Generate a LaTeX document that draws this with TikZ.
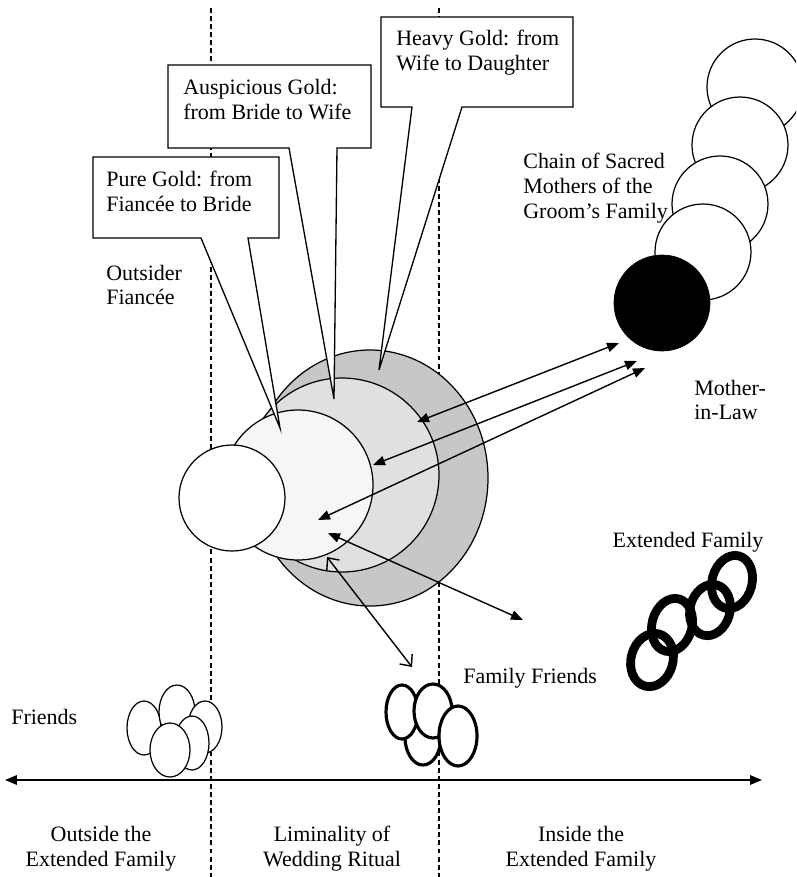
\documentclass[tikz,border=0pt]{standalone}
\usepackage{fontspec}
\setmainfont{Liberation Serif}
\usetikzlibrary{arrows.meta, positioning, calc}

\definecolor{heavygold}{gray}{0.78}
\definecolor{auspgold}{gray}{0.88}
\definecolor{puregold}{gray}{0.965}

\tikzset{
  txt/.style={font=\fontsize{12.5}{14.2}\selectfont, inner sep=0pt, align=left},
  ctxt/.style={txt, align=center},
  callout/.style={draw, fill=white, line width=0.75pt, line join=miter},
  divider/.style={dash pattern=on 2.8pt off 1.8pt, line width=0.6pt},
  disc/.style={draw, line width=0.7pt},
  thinring/.style={draw, fill=white, line width=0.7pt},
  boldring/.style={draw, fill=white, line width=1.8pt},
  chainring/.style={draw, line width=5pt},
  twoway/.style={{Triangle[length=2.4mm,width=1.9mm]}-{Triangle[length=2.4mm,width=1.9mm]}, line width=0.8pt},
  openway/.style={{Straight Barb[length=1.8mm,width=3.2mm]}-{Straight Barb[length=1.8mm,width=3.2mm]}, line width=0.8pt},
}

\begin{document}
\begin{tikzpicture}[x=0.02cm, y=-0.02cm]
  \useasboundingbox (0,0) rectangle (796,877);
  \clip (0,0) rectangle (796,877);

  % zone borders
  \draw[divider] (211,8) -- (211,877);
  \draw[divider] (439,8) -- (439,877);

  % layers of gold round the fiancee
  \filldraw[disc, fill=heavygold] (370,478) ellipse [x radius=118, y radius=128];
  \filldraw[disc, fill=auspgold] (342,475) circle [radius=97];
  \filldraw[disc, fill=puregold] (298,485) circle [radius=75];
  \filldraw[disc, fill=white] (232,498) circle [radius=53];

  \coordinate (heavytip) at (379,370);
  \coordinate (ausptip) at (334,399);
  \coordinate (puretip) at (280,428);

  % callouts
  \draw[callout] (381,17) -- (573,17) -- (573,107) -- (462,107) -- (heavytip) -- (412,107) -- (381,107) -- cycle;
  \node (heavy) [txt, anchor=west] at (396,53) {Heavy Gold: from\\Wife to Daughter};

  \draw[callout] (168,65) -- (371,65) -- (371,148) -- (337,148) -- (ausptip) -- (289,148) -- (168,148) -- cycle;
  \node (ausp) [txt, anchor=west] at (183,100) {Auspicious Gold:\\from Bride to Wife};

  \draw[callout] (93,157) -- (279,157) -- (279,238) -- (248,238) -- (puretip) -- (201,238) -- (93,238) -- cycle;
  \node (pure) [txt, anchor=west] at (106,191) {Pure Gold: from\\Fiancée to Bride};

  \node (outsider) [txt, anchor=west] at (106,285) {Outsider\\Fiancée};

  % chain of mothers
  \filldraw[thinring] (755,87) circle [radius=48];
  \filldraw[thinring] (740,145) circle [radius=48];
  \filldraw[thinring] (720,204) circle [radius=48];
  \filldraw[thinring] (703,252) circle [radius=48];
  \node (motherinlaw) [circle, fill=black, draw, minimum size=1.92cm, inner sep=0pt] at (662,303) {};
  \node (chain) [txt, anchor=west] at (523,188) {Chain of Sacred\\Mothers of the\\Groom’s Family};
  \node (mil) [txt, anchor=west] at (694,400) {Mother-\\in-Law};

  % exchanges with the mother-in-law
  \coordinate (a1) at (417,422);
  \coordinate (b1) at (619,343);
  \coordinate (a2) at (373,465);
  \coordinate (b2) at (637,361);
  \coordinate (a3) at (318,520);
  \coordinate (b3) at (645,368);
  \draw[twoway] (a1) -- (b1);
  \draw[twoway] (a2) -- (b2);
  \draw[twoway] (a3) -- (b3);

  % extended family
  \node (extfam) [txt] at (688,542) {Extended Family};
  \draw[chainring, rotate around={-15:(652,660)}] (652,660) ellipse [x radius=21, y radius=27];
  \draw[chainring, rotate around={-15:(672,625)}] (672,625) ellipse [x radius=20, y radius=27];
  \draw[chainring, rotate around={-15:(710,610)}] (710,610) ellipse [x radius=20, y radius=26];
  \draw[chainring, rotate around={-15:(732,582)}] (732,582) ellipse [x radius=20, y radius=27];

  \coordinate (c1) at (328,533);
  \coordinate (d1) at (523,620);
  \draw[twoway] (c1) -- (d1);

  % family friends
  \filldraw[boldring] (423,737) ellipse [x radius=18, y radius=28];
  \filldraw[boldring] (402,712) ellipse [x radius=16, y radius=27];
  \filldraw[boldring] (433,711) ellipse [x radius=19, y radius=27];
  \filldraw[boldring] (458,736) ellipse [x radius=19, y radius=30];
  \node (famfriends) [txt, anchor=west] at (463,678) {Family Friends};

  \coordinate (c2) at (327,557);
  \coordinate (d2) at (412,667);
  \draw[openway] (c2) -- (d2);

  % friends
  \filldraw[thinring] (144,728) ellipse [x radius=17, y radius=27];
  \filldraw[thinring] (177,712) ellipse [x radius=18, y radius=27];
  \filldraw[thinring] (205,727) ellipse [x radius=17, y radius=26];
  \filldraw[thinring] (192,743) ellipse [x radius=17, y radius=27];
  \filldraw[thinring] (170,750) ellipse [x radius=20, y radius=27];
  \node (friends) [txt, anchor=west] at (11,717) {Friends};

  % axis
  \coordinate (axl) at (5,780);
  \coordinate (axr) at (762,780);
  \draw[twoway, line width=1pt] (axl) -- (axr);

  \node (outside) [ctxt] at (101,849) {Outside the\\Extended Family};
  \node (liminal) [ctxt] at (332,849) {Liminality of\\Wedding Ritual};
  \node (inside) [ctxt] at (581,849) {Inside the\\Extended Family};
\end{tikzpicture}
\end{document}
